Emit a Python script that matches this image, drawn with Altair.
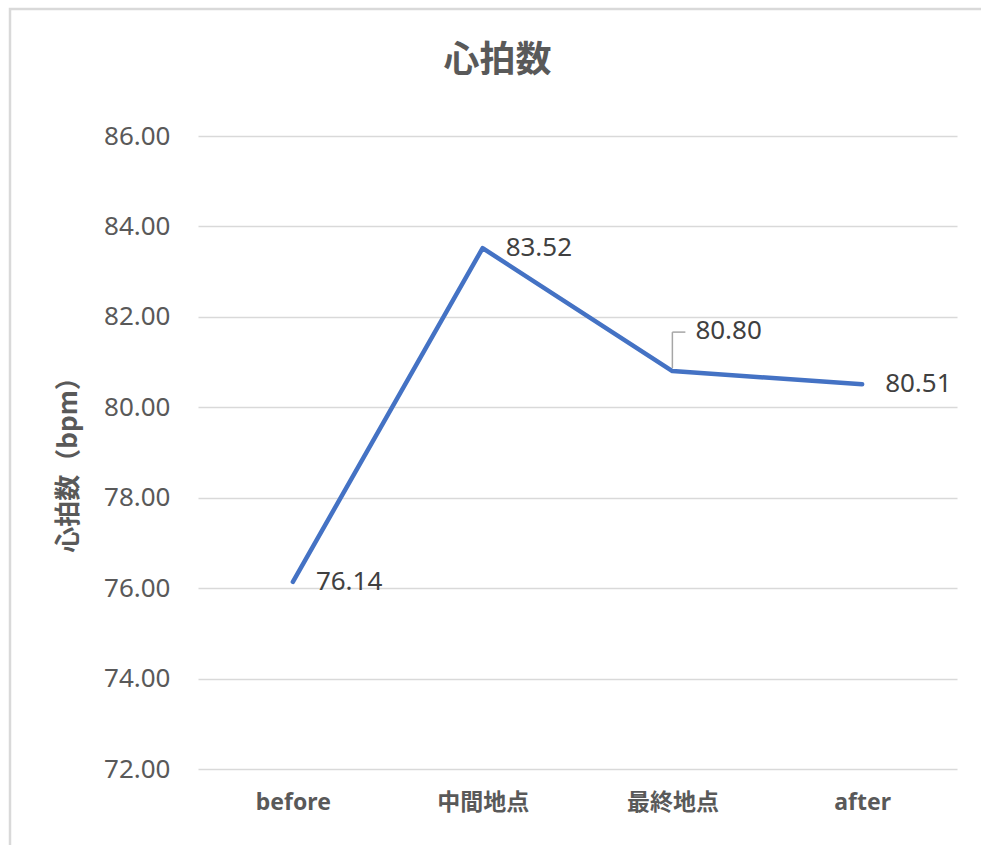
import altair as alt
import pandas as pd

# Heart-rate means per measurement point
stages = ["before", "中間地点", "最終地点", "after"]
bpm = [76.14, 83.52, 80.80, 80.51]
y_ticks = [72, 74, 76, 78, 80, 82, 84, 86]

df = pd.DataFrame({"stage": stages, "bpm": bpm})

LATIN = "Noto Sans"
CJK = "Noto Sans CJK JP"
MIXED = "Noto Sans, Noto Sans CJK JP"
GRID = "#d9d9d9"
TEXT = "#595959"
LINE = "#4472C4"

x_enc = alt.X(
    "stage:N",
    sort=stages,
    scale=alt.Scale(type="point", padding=0.5),
    axis=alt.Axis(
        title=None,
        domain=False,
        ticks=False,
        grid=False,
        labelAngle=0,
        labelFont=MIXED,
        labelFontSize=23,
        labelFontWeight="bold",
        labelColor=TEXT,
        labelPadding=22,
    ),
)

y_enc = alt.Y(
    "bpm:Q",
    scale=alt.Scale(domain=[72, 86], nice=False, zero=False),
    axis=alt.Axis(
        values=y_ticks,
        format=".2f",
        title="心拍数（bpm）",
        titleFont=CJK,
        titleFontSize=26,
        titleFontWeight="bold",
        titleColor=TEXT,
        titleX=-130,
        titleY=322,
        titleAlign="center",
        titleBaseline="middle",
        titleAngle=-90,
        domain=False,
        ticks=False,
        grid=True,
        gridColor=GRID,
        gridWidth=1.5,
        labelFont=LATIN,
        labelFontSize=26,
        labelColor=TEXT,
        labelPadding=28,
    ),
)

x_plain = alt.X("stage:N", sort=stages)
y_plain = alt.Y("bpm:Q")

base = alt.Chart(df)

line = base.mark_line(
    color=LINE, strokeWidth=4.5, strokeCap="round", strokeJoin="round"
).encode(x=x_enc, y=y_enc)

label_style = dict(
    align="left", baseline="middle", dx=23, font=LATIN, fontSize=26, color="#404040"
)

labels = base.transform_filter(alt.datum.stage != "最終地点").mark_text(
    **label_style
).encode(x=x_plain, y=y_plain, text=alt.Text("bpm:Q", format=".2f"))

# The 最終地点 label sits higher, tied back to its point by a leader line
raised = base.transform_filter(alt.datum.stage == "最終地点")

raised_label = raised.mark_text(dy=-40, **label_style).encode(
    x=x_plain, y=y_plain, text=alt.Text("bpm:Q", format=".2f")
)

leader_v = raised.mark_rule(
    color="#a6a6a6", strokeWidth=1.5, yOffset=-3, y2Offset=-39
).encode(x=x_plain, y=y_plain, y2="bpm:Q")

leader_h = raised.mark_rule(
    color="#a6a6a6", strokeWidth=1.5, yOffset=-39, x2Offset=13
).encode(x=x_plain, x2="stage:N", y=y_plain)

frame = alt.Chart(alt.Data(values=[{}])).mark_rect(
    fill=None, stroke=GRID, strokeWidth=2.5
).encode(
    x=alt.value(-188), x2=alt.value(820), y=alt.value(-127), y2=alt.value(760)
)

chart = (
    alt.layer(frame, line, leader_v, leader_h, labels, raised_label)
    .properties(
        width=759,
        height=633,
        autosize=alt.AutoSizeParams(type="none"),
        padding={"left": 198, "top": 136, "right": 24, "bottom": 76},
        background="white",
        title=alt.TitleParams(
            text="心拍数",
            font=CJK,
            fontSize=36,
            fontWeight="bold",
            color=TEXT,
            anchor="middle",
            baseline="bottom",
            dx=-80,
            offset=-108,
        ),
    )
    .configure_view(stroke=None)
)

chart.save("out.html", embed_options={"renderer": "svg", "actions": False})
